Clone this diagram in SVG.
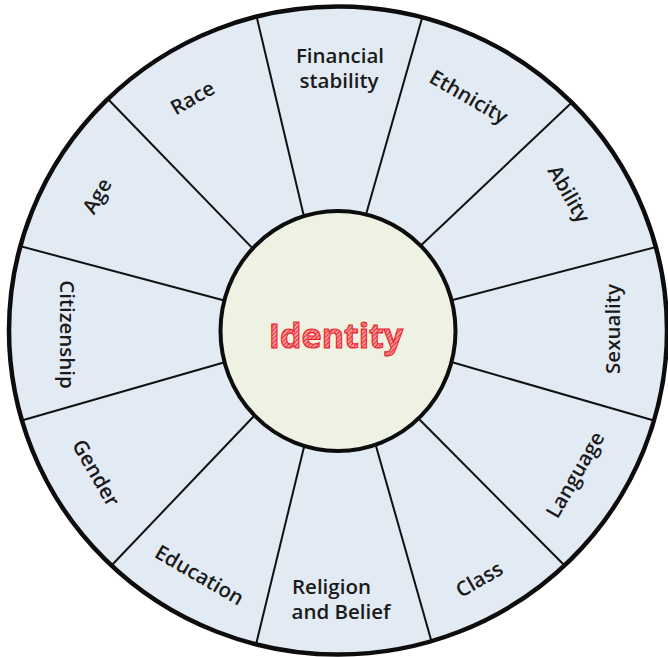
<svg xmlns="http://www.w3.org/2000/svg" width="668" height="657" viewBox="0 0 668 657">
  <defs>
    <style>
      .lbl { font-family: "Open Sans", "Liberation Sans", sans-serif; font-weight: 600; font-size: 20.5px; fill: #1a1a1a; text-anchor: middle; }
      .lbl-start { font-family: "Open Sans", "Liberation Sans", sans-serif; font-weight: 600; font-size: 20.5px; fill: #1a1a1a; text-anchor: start; }
      .spoke { stroke: #111; stroke-width: 2; fill: none; }
      .center-title { font-family: "Open Sans", "Liberation Sans", sans-serif; font-weight: 700; font-size: 34px; text-anchor: middle; fill: url(#hatch); stroke: #ea2228; stroke-width: 1.1; }
    </style>
    <pattern id="hatch" width="3" height="3" patternUnits="userSpaceOnUse" patternTransform="rotate(45)">
      <rect width="3" height="3" fill="#f89a9a"/>
      <line x1="0" y1="0" x2="0" y2="3" stroke="#e8202a" stroke-width="1.8"/>
    </pattern>
    <clipPath id="wheelClip">
      <ellipse cx="338" cy="330.5" rx="329" ry="324"/>
    </clipPath>
  </defs>

  <g id="wheel">
    <ellipse cx="338" cy="330.5" rx="329" ry="324" fill="#e2eaf4"/>
  </g>

  <g id="connectors" clip-path="url(#wheelClip)">
    <line class="spoke" x1="423.5" y1="13" x2="363" y2="225"/>
    <line class="spoke" x1="576" y1="98.5" x2="414" y2="252"/>
    <line class="spoke" x1="662" y1="245.4" x2="445" y2="302"/>
    <line class="spoke" x1="666" y1="424" x2="448" y2="361"/>
    <line class="spoke" x1="576" y1="577" x2="418" y2="418"/>
    <line class="spoke" x1="436.5" y1="659" x2="376" y2="446"/>
    <line class="spoke" x1="252" y1="661" x2="304" y2="447"/>
    <line class="spoke" x1="101.5" y1="576" x2="254" y2="416"/>
    <line class="spoke" x1="13" y1="423" x2="229" y2="361"/>
    <line class="spoke" x1="14" y1="244.5" x2="230" y2="302"/>
    <line class="spoke" x1="105" y1="96" x2="259" y2="255"/>
    <line class="spoke" x1="255.4" y1="11.5" x2="306" y2="225"/>
  </g>

  <g id="wheel-rim">
    <ellipse cx="338" cy="330.5" rx="329" ry="324" fill="none" stroke="#0d0d0d" stroke-width="4.5"/>
  </g>

  <g id="node-identity">
    <ellipse cx="338" cy="331" rx="117.5" ry="120" fill="#eef2e3" stroke="#0d0d0d" stroke-width="4"/>
    <text class="center-title" x="336" y="347.5">Identity</text>
  </g>

  <g id="node-financial-stability">
    <text class="lbl"><tspan x="340" y="63">Financial</tspan><tspan x="339" y="88">stability</tspan></text>
  </g>
  <g id="node-ethnicity" transform="translate(468.7,97) rotate(30)">
    <text class="lbl" x="0" y="7">Ethnicity</text>
  </g>
  <g id="node-ability" transform="translate(568.8,194) rotate(60)">
    <text class="lbl" x="0" y="7">Ability</text>
  </g>
  <g id="node-sexuality" transform="translate(612.5,329) rotate(-90)">
    <text class="lbl" x="0" y="7">Sexuality</text>
  </g>
  <g id="node-language" transform="translate(575.2,475) rotate(-60)">
    <text class="lbl" x="0" y="7">Language</text>
  </g>
  <g id="node-class" transform="translate(479.3,579.5) rotate(-30)">
    <text class="lbl" x="0" y="7">Class</text>
  </g>
  <g id="node-religion-and-belief">
    <text class="lbl-start"><tspan x="292" y="594">Religion</tspan><tspan x="291.5" y="619">and Belief</tspan></text>
  </g>
  <g id="node-education" transform="translate(199.4,575.2) rotate(30)">
    <text class="lbl" x="0" y="7">Education</text>
  </g>
  <g id="node-gender" transform="translate(95.9,473) rotate(60)">
    <text class="lbl" x="0" y="7">Gender</text>
  </g>
  <g id="node-citizenship" transform="translate(67.3,334.5) rotate(90)">
    <text class="lbl" x="0" y="7">Citizenship</text>
  </g>
  <g id="node-age" transform="translate(97.1,196) rotate(-60)">
    <text class="lbl" x="0" y="7">Age</text>
  </g>
  <g id="node-race" transform="translate(192.6,98) rotate(-30)">
    <text class="lbl" x="0" y="7">Race</text>
  </g>
</svg>
